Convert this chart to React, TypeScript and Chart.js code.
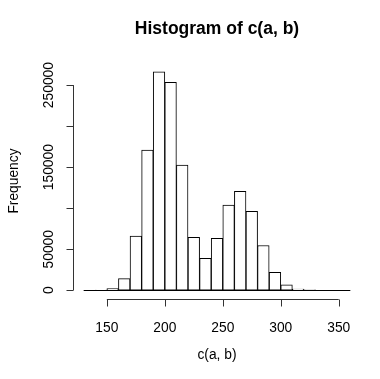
import React, { useEffect, useRef } from "react";
import { Chart, registerables } from "chart.js";

Chart.register(...registerables);

const binStarts = [130, 140, 150, 160, 170, 180, 190, 200, 210, 220, 230, 240, 250, 260, 270, 280, 290, 300, 310, 320, 330, 340, 350];
const binWidth = 10;
const counts = [0, 300, 2000, 14200, 65900, 170700, 266300, 253300, 152400, 64600, 39000, 63400, 103700, 120700, 96300, 54500, 22000, 6500, 1500, 400, 0, 0, 0];
const xTicks = [150, 200, 250, 300, 350];
const yTicks = [0, 50000, 100000, 150000, 200000, 250000];
const yTickLabels = ["0", "50000", "", "150000", "", "250000"];
const title = "Histogram of c(a, b)";
const xLabel = "c(a, b)";
const yLabel = "Frequency";

const FONT = "Liberation Sans, Arial, Helvetica, sans-serif";

export default function App() {
  const ref = useRef<HTMLCanvasElement | null>(null);
  useEffect(() => {
    document.body.style.margin = "0";
    const canvas = ref.current!;
    const lo = binStarts[0];
    const hi = binStarts[binStarts.length - 1] + binWidth;
    const xPad = (hi - lo) * 0.04;
    const yMax = Math.max(...counts);
    const yPad = yMax * 0.04;

    const rPlugin = {
      id: "rAxes",
      afterDraw(chart: any) {
        const ctx = chart.ctx;
        const xs = chart.scales.x;
        const ys = chart.scales.y;
        const area = chart.chartArea;
        ctx.save();
        ctx.strokeStyle = "#000";
        ctx.fillStyle = "#000";
        ctx.lineWidth = 1;
        // baseline across all bins
        const y0 = Math.round(ys.getPixelForValue(0)) + 0.5;
        ctx.beginPath();
        ctx.moveTo(xs.getPixelForValue(lo), y0);
        ctx.lineTo(xs.getPixelForValue(hi), y0);
        ctx.stroke();
        // x axis
        const ax = Math.round(area.bottom) + 0.5;
        ctx.strokeStyle = "#333";
        ctx.beginPath();
        ctx.moveTo(xs.getPixelForValue(xTicks[0]), ax);
        ctx.lineTo(xs.getPixelForValue(xTicks[xTicks.length - 1]), ax);
        for (const t of xTicks) {
          const px = Math.round(xs.getPixelForValue(t)) + 0.5;
          ctx.moveTo(px, ax);
          ctx.lineTo(px, ax + 7);
        }
        ctx.stroke();
        ctx.font = `13.8px ${FONT}`;
        ctx.textAlign = "center";
        ctx.textBaseline = "alphabetic";
        for (const t of xTicks) {
          ctx.fillText(String(t), xs.getPixelForValue(t), 332);
        }
        // y axis
        const ay = Math.round(area.left) + 0.5;
        ctx.beginPath();
        ctx.moveTo(ay, ys.getPixelForValue(yTicks[0]));
        ctx.lineTo(ay, ys.getPixelForValue(yTicks[yTicks.length - 1]));
        for (const t of yTicks) {
          const py = Math.round(ys.getPixelForValue(t)) + 0.5;
          ctx.moveTo(ay, py);
          ctx.lineTo(ay - 7, py);
        }
        ctx.stroke();
        yTicks.forEach((t, i) => {
          const lab = yTickLabels[i];
          if (!lab) return;
          ctx.save();
          ctx.translate(53, ys.getPixelForValue(t));
          ctx.rotate(-Math.PI / 2);
          ctx.fillText(lab, 0, 0);
          ctx.restore();
        });
        // labels
        const cx = (area.left + area.right) / 2;
        const cy = (area.top + area.bottom) / 2;
        ctx.font = `bold 17.5px ${FONT}`;
        ctx.fillText(title, cx, 34);
        ctx.font = `13.8px ${FONT}`;
        ctx.fillText(xLabel, cx, 359);
        ctx.save();
        ctx.translate(17.5, cy);
        ctx.rotate(-Math.PI / 2);
        ctx.fillText(yLabel, 0, 0);
        ctx.restore();
        ctx.restore();
      },
    };

    const chart = new Chart(canvas, {
      type: "bar",
      data: {
        datasets: [
          {
            data: binStarts.map((b, i) => ({ x: b + binWidth / 2, y: counts[i] })) as any,
            backgroundColor: "#ffffff",
            borderColor: "#000000",
            borderWidth: 1,
            borderSkipped: false,
            barPercentage: 1,
            categoryPercentage: 1,
          },
        ],
      },
      options: {
        animation: false,
        responsive: false,
        maintainAspectRatio: false,
        layout: { padding: { left: 73, right: 19, top: 63, bottom: 80 } },
        plugins: { legend: { display: false }, tooltip: { enabled: false }, title: { display: false } },
        scales: {
          x: { type: "linear", offset: false, min: lo - xPad, max: hi + xPad, display: false },
          y: { type: "linear", min: -yPad, max: yMax + yPad, display: false },
        },
      },
      plugins: [rPlugin],
    });
    return () => chart.destroy();
  }, []);
  return <canvas ref={ref} width={380} height={379} style={{ display: "block" }} />;
}
